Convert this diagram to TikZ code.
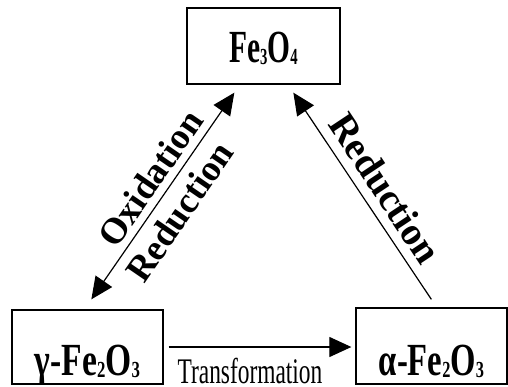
\documentclass[tikz,border=0pt]{standalone}
\usepackage{fontspec}
\setmainfont{Liberation Serif}
\usepackage{graphicx}
\usetikzlibrary{arrows.meta}
\newcommand\chemsub[1]{\raisebox{-2pt}{\fontsize{23}{23}\selectfont #1}}
\begin{document}
\begin{tikzpicture}[x=1pt,y=1pt,
  box/.style={draw, line width=1.3pt, inner sep=0pt, minimum width=#1, align=center, anchor=base},
  chem/.style={font=\fontsize{46}{50}\selectfont\bfseries},
  arr/.style={line width=1.2pt, -{Triangle[length=22pt,width=20pt]}},
  darr/.style={line width=1.2pt, {Triangle[length=22pt,width=20pt]}-{Triangle[length=22pt,width=20pt]}},
  lab/.style={font=\fontsize{36.5}{40}\selectfont\bfseries, inner sep=0pt},
  labr/.style={font=\fontsize{39}{44}\selectfont\bfseries, inner sep=0pt}
]
\useasboundingbox (0,0) rectangle (508,386);
\node[box=153pt, text height=55pt, text depth=21pt, chem] (f) at (263.5,323) {\scalebox{0.64}[1]{Fe\chemsub{3}O\chemsub{4}}};
\node[box=151pt, text height=65pt, text depth=9pt, chem] (g) at (87.5,11) {\scalebox{0.73}[1]{γ-Fe\chemsub{2}O\chemsub{3}}};
\node[box=151pt, text height=67pt, text depth=9pt, chem] (a) at (431.5,11) {\scalebox{0.71}[1]{α-Fe\chemsub{2}O\chemsub{3}}};
\node[font=\fontsize{36}{40}\selectfont, anchor=base, inner sep=0pt] (t) at (250,2.5) {\scalebox{0.65}[1]{Transformation}};
\draw[arr] ([xshift=5pt]g.east) -- ([xshift=-4pt]g.east -| a.west);
\draw[darr] ([shift={(80,10)}]g.north west) -- ([shift={(48,-8)}]f.south west);
\draw[arr] ([shift={(76,8)}]a.north west) -- ([shift={(107,-8)}]f.south west);
\node[lab, rotate=55.5, anchor=south] (ox) at (160.9,200.3) {Oxidation};
\node[lab, rotate=55.5, anchor=north] (r1) at (168.6,181.6) {Reduction};
\node[labr, rotate=-56.4, anchor=south] (r2) at (373.8,190) {Reduction};
\end{tikzpicture}
\end{document}
